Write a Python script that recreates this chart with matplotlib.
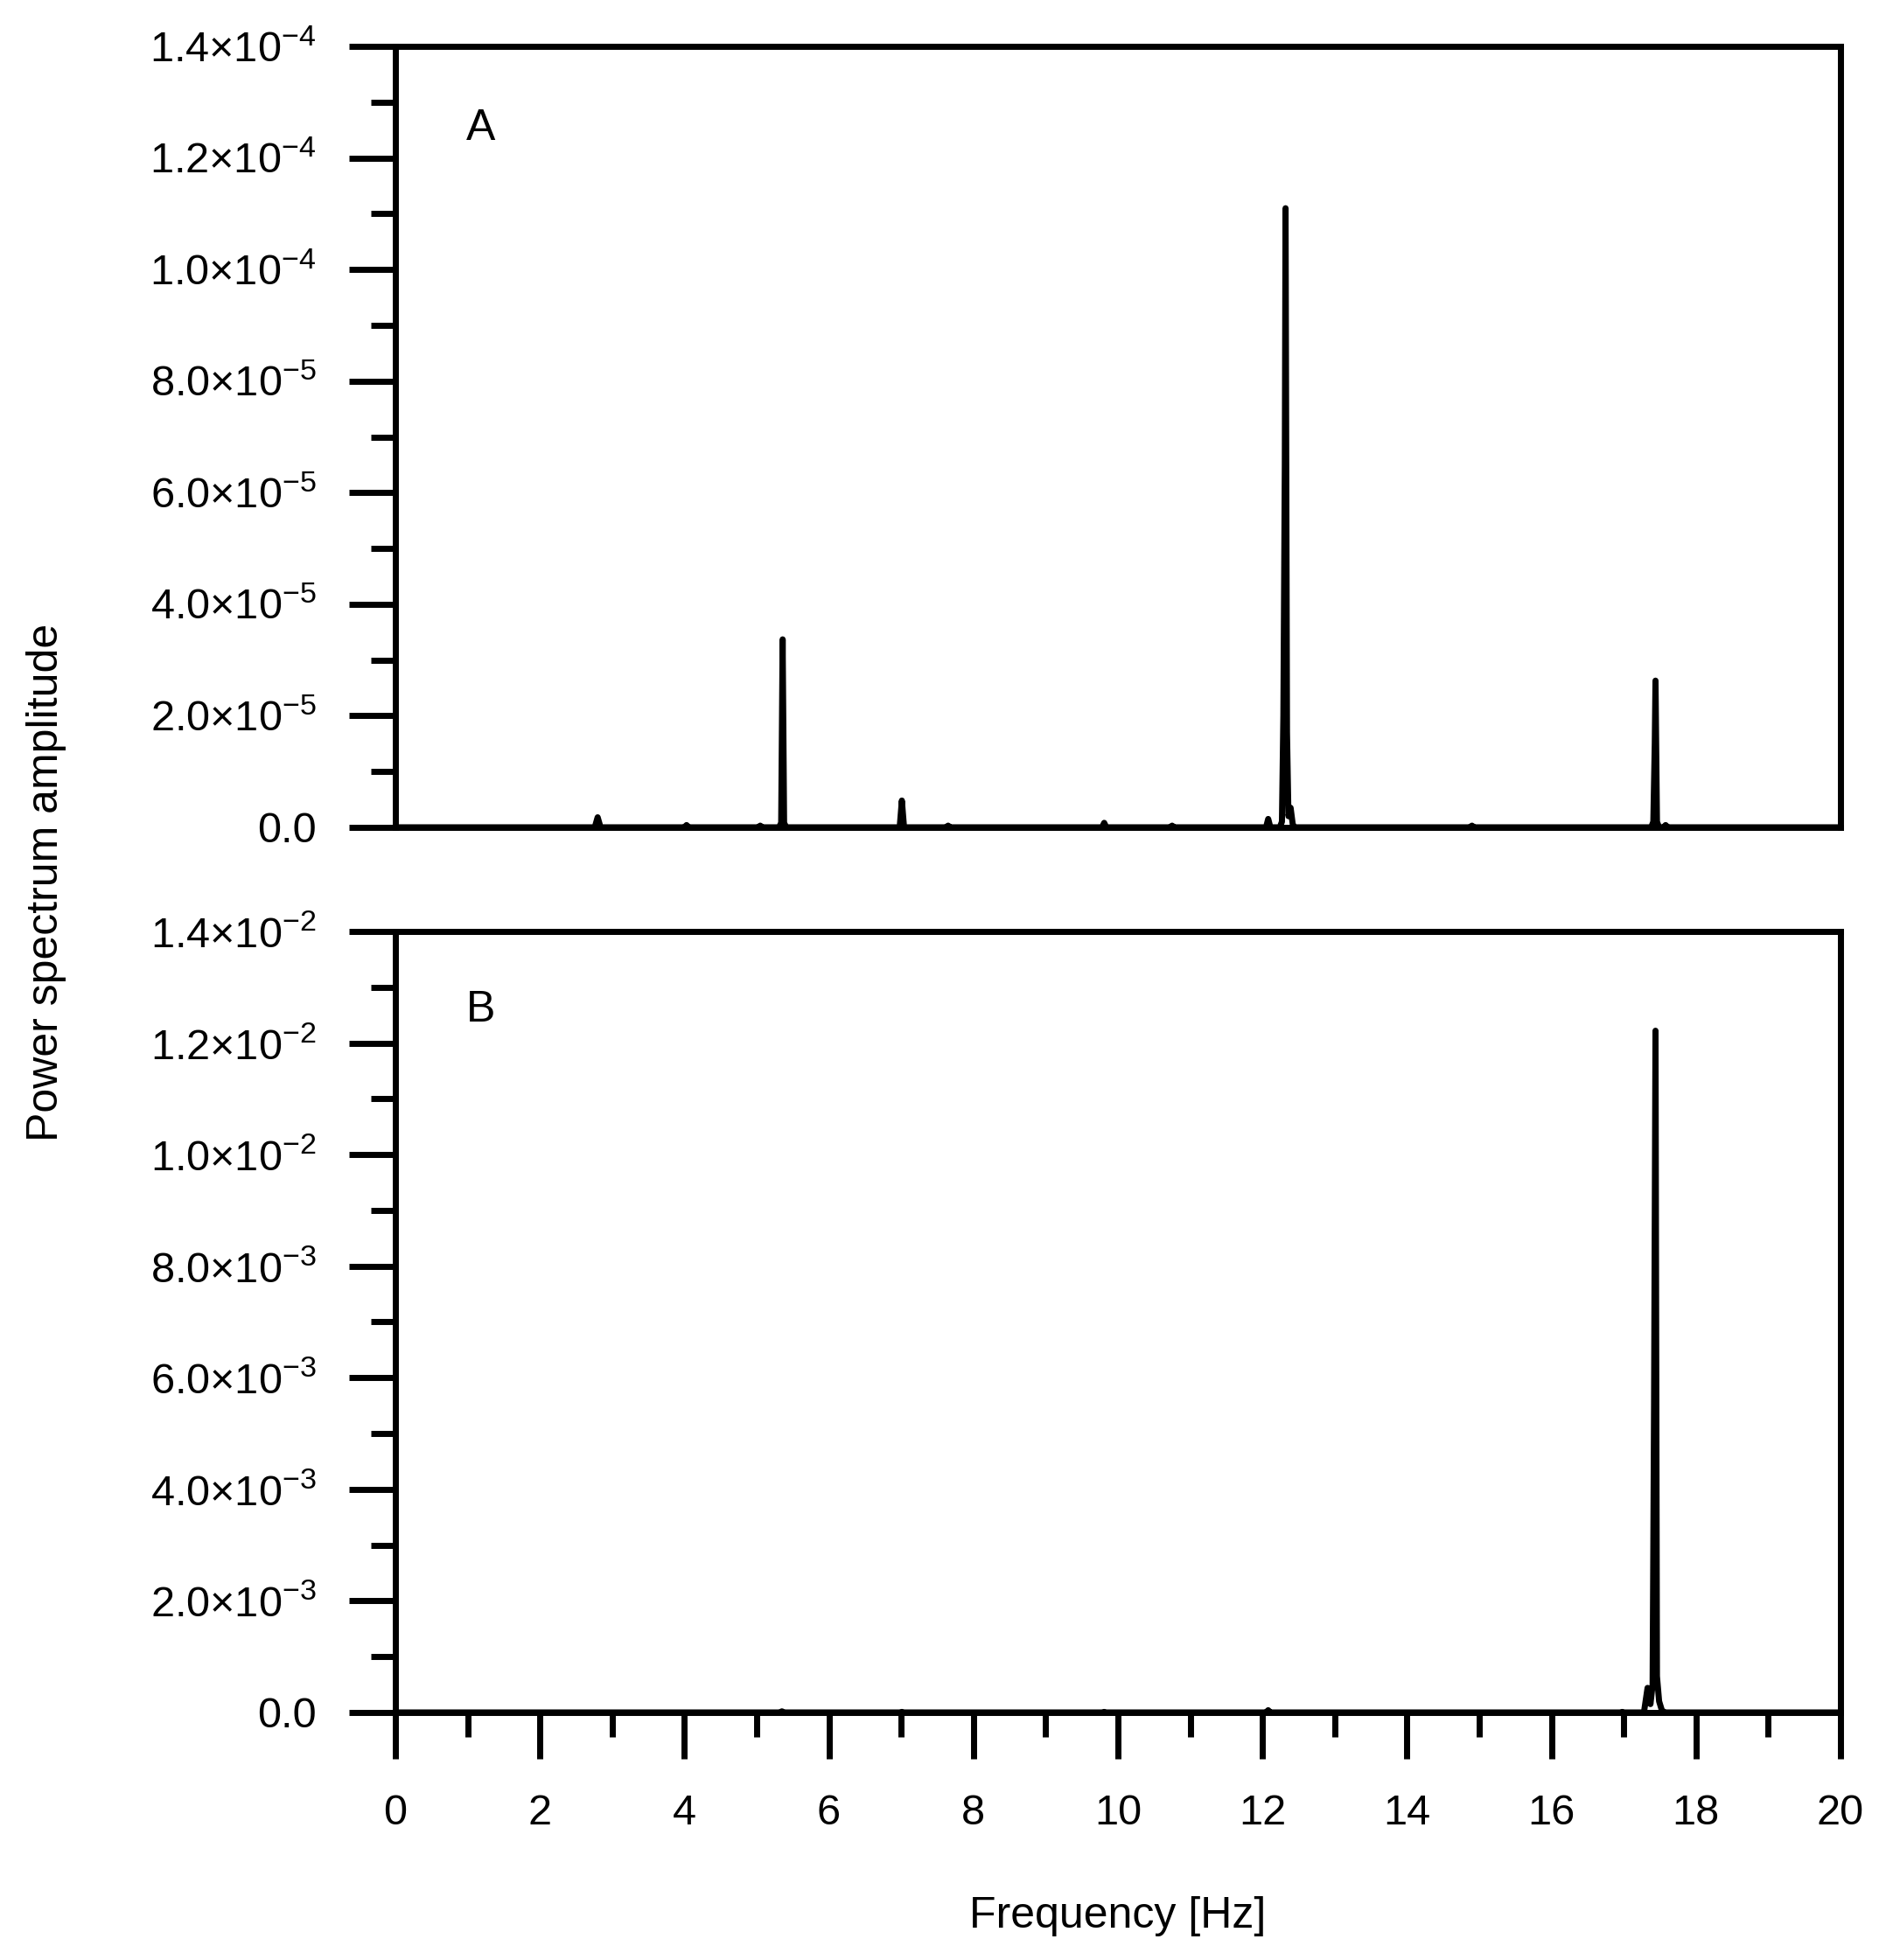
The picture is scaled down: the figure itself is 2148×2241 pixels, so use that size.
import numpy as np
import matplotlib
matplotlib.use("Agg")
import matplotlib.pyplot as plt
from matplotlib.ticker import MultipleLocator, FuncFormatter

plt.rcParams["font.family"] = ["Liberation Sans", "DejaVu Sans"]
plt.rcParams["mathtext.fontset"] = "custom"
plt.rcParams["mathtext.rm"] = "Liberation Sans"
plt.rcParams["mathtext.it"] = "Liberation Sans"
plt.rcParams["mathtext.default"] = "regular"

#
# spectrum points
#
freq_a = [0.0,
          2.76, 2.80, 2.84,
          4.00, 4.03, 4.06,
          5.02, 5.05, 5.08,
          5.31, 5.34, 5.36, 5.38, 5.41,
          6.98, 7.01, 7.04,
          7.62, 7.65, 7.68,
          9.78, 9.81, 9.84,
          10.72, 10.75, 10.78,
          12.05, 12.08, 12.11,
          12.24, 12.27, 12.29, 12.31, 12.32, 12.34, 12.36, 12.39, 12.42, 12.45,
          14.87, 14.90, 14.93,
          17.38, 17.41, 17.43, 17.44, 17.46, 17.49,
          17.55, 17.58, 17.61,
          20.0]
amp_a = [0.0,
         0.0, 1.8e-6, 0.0,
         0.0, 0.4e-6, 0.0,
         0.0, 0.3e-6, 0.0,
         0.0, 0.8e-6, 3.37e-5, 0.8e-6, 0.0,
         0.0, 4.8e-6, 0.0,
         0.0, 0.3e-6, 0.0,
         0.0, 0.8e-6, 0.0,
         0.0, 0.3e-6, 0.0,
         0.0, 1.5e-6, 0.0,
         0.0, 1.0e-6, 2.0e-5, 6.5e-5, 1.11e-4, 1.7e-5, 2.0e-6, 3.5e-6, 0.5e-6, 0.0,
         0.0, 0.3e-6, 0.0,
         0.0, 1.0e-6, 1.5e-5, 2.63e-5, 1.0e-6, 0.0,
         0.0, 0.4e-6, 0.0,
         0.0]

freq_b = [0.0,
          5.32, 5.35, 5.38,
          6.98, 7.01, 7.04,
          9.78, 9.81, 9.84,
          12.05, 12.08, 12.11,
          16.95, 16.98, 17.01,
          17.28, 17.33, 17.37, 17.40, 17.42, 17.44, 17.46, 17.49, 17.53, 17.58,
          20.0]
amp_b = [0.0,
         0.0, 2.0e-5, 0.0,
         0.0, 1.0e-5, 0.0,
         0.0, 1.0e-5, 0.0,
         0.0, 4.0e-5, 0.0,
         0.0, 1.0e-5, 0.0,
         0.0, 4.4e-4, 1.5e-4, 5.0e-4, 5.5e-3, 1.222e-2, 6.5e-4, 2.0e-4, 3.0e-5, 0.0,
         0.0]

y_max_a = 1.4e-4
y_max_b = 1.4e-2
x_ticks = np.arange(0, 21, 2)


def sci_fmt(v, pos):
    if abs(v) < 1e-12:
        return "0.0"
    exp = int(np.floor(np.log10(abs(v)) + 1e-9))
    mant = v / 10**exp
    return "%.1f\u00d710$^{%d}$" % (mant, exp)


def style_axis(ax, y_max, show_x):
    for sp in ax.spines.values():
        sp.set_linewidth(5)
    ax.set_xlim(0, 20)
    ax.set_ylim(0, y_max)
    ax.yaxis.set_major_locator(MultipleLocator(y_max / 7))
    ax.yaxis.set_minor_locator(MultipleLocator(y_max / 14))
    ax.yaxis.set_major_formatter(FuncFormatter(sci_fmt))
    ax.tick_params(axis="y", which="major", direction="out", length=38,
                   width=5, labelsize=35, pad=27)
    ax.tick_params(axis="y", which="minor", direction="out", length=20,
                   width=5)
    if show_x:
        ax.set_xticks(x_ticks)
        ax.xaxis.set_minor_locator(MultipleLocator(1))
        ax.tick_params(axis="x", which="major", direction="out", length=38,
                       width=5, labelsize=35, pad=29)
        ax.tick_params(axis="x", which="minor", direction="out", length=20,
                       width=5)
    else:
        ax.set_xticks([])
        ax.tick_params(axis="x", which="both", length=0)


fig = plt.figure(figsize=(21.48, 22.41), dpi=100)
ax_a = fig.add_axes([0.2104, 0.5779, 0.7691, 0.3984])
ax_b = fig.add_axes([0.2104, 0.1263, 0.7691, 0.3985])

#
# Panel A
#
ax_a.plot(freq_a, amp_a, color="black", linewidth=5,
          solid_capstyle="round", solid_joinstyle="round")
style_axis(ax_a, y_max_a, False)
ax_a.text(0.059, 0.895, "A", transform=ax_a.transAxes, fontsize=36,
          ha="center", va="center")

#
# Panel B
#
ax_b.plot(freq_b, amp_b, color="black", linewidth=5,
          solid_capstyle="round", solid_joinstyle="round")
style_axis(ax_b, y_max_b, True)
ax_b.text(0.059, 0.899, "B", transform=ax_b.transAxes, fontsize=36,
          ha="center", va="center")

ax_b.set_xlabel("Frequency [Hz]", fontsize=36, labelpad=52)
fig.text(53 / 2148, 0.5498, "Power spectrum amplitude", rotation=90,
         fontsize=36, ha="center", va="center")

fig.savefig("out.png", dpi=100)
